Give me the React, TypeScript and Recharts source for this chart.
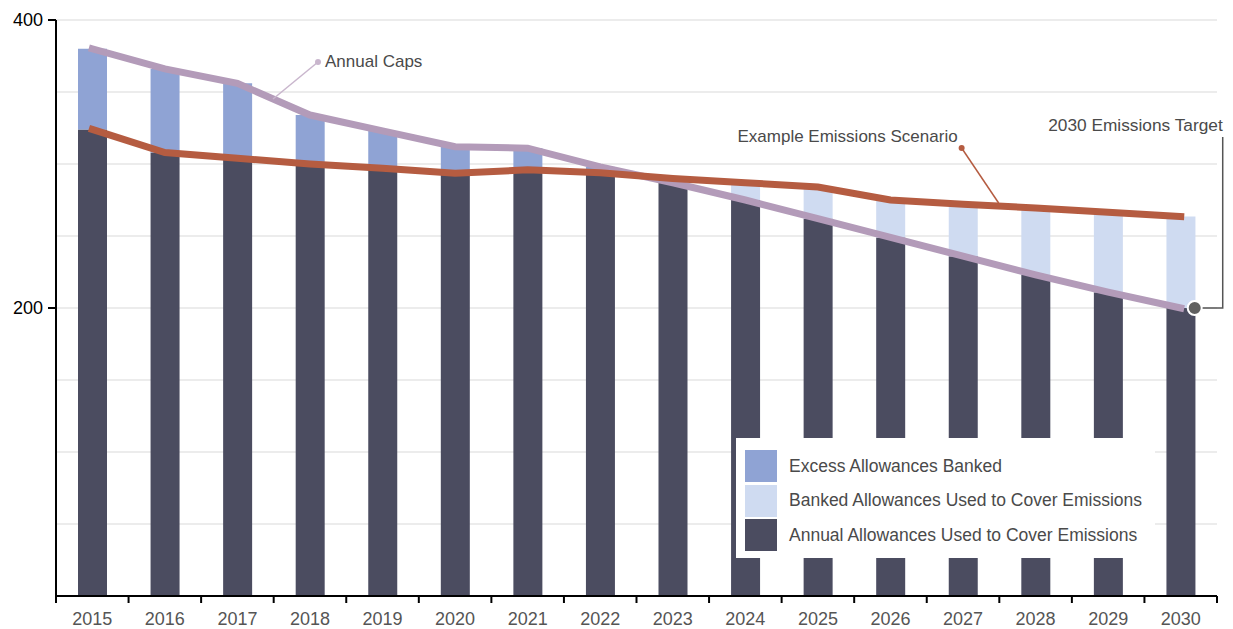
import React from 'react';
import {
  ComposedChart,
  Bar,
  Line,
  XAxis,
  YAxis,
  CartesianGrid,
  Legend,
  ReferenceDot,
} from 'recharts';

// ---- data ----
const years = ['2015', '2016', '2017', '2018', '2019', '2020', '2021', '2022', '2023', '2024', '2025', '2026', '2027', '2028', '2029', '2030'];
const annualCaps = [380, 366, 356, 334, 323, 312, 311, 298, 287, 275, 262, 249, 236, 223, 211, 200];
const emissions = [324, 308, 304, 300, 297, 293.5, 296, 294, 290, 287, 284, 275, 272, 269.5, 266.5, 263.5];
const yTicks = [200, 400];
const gridValues = [50, 100, 150, 200, 250, 300, 350, 400];

const seriesNames = {
  excess: 'Excess Allowances Banked',
  banked: 'Banked Allowances Used to Cover Emissions',
  annual: 'Annual Allowances Used to Cover Emissions',
  caps: 'Annual Caps',
  emissions: 'Example Emissions Scenario',
  target: '2030 Emissions Target',
};

const COLORS = {
  annual: '#4b4c60',
  excess: '#8fa3d4',
  banked: '#cfdbf1',
  caps: '#b39bb9',
  emissions: '#b55c41',
};

const data = years.map((year, i) => ({
  year,
  caps: annualCaps[i],
  emissions: emissions[i],
  annual: Math.min(annualCaps[i], emissions[i]),
  excess: Math.max(annualCaps[i] - emissions[i], 0),
  banked: Math.max(emissions[i] - annualCaps[i], 0),
}));

const legendItems = [
  { label: seriesNames.excess, color: COLORS.excess },
  { label: seriesNames.banked, color: COLORS.banked },
  { label: seriesNames.annual, color: COLORS.annual },
];

// ---- layout ----
const W = 1217;
const H = 621;
const MARGIN = { top: 12, right: 8, left: 0, bottom: 0 };
const Y_AXIS_W = 48;
const X_AXIS_H = 33;
const PLOT_BOTTOM = H - MARGIN.bottom - X_AXIS_H;
const PLOT_W = W - MARGIN.left - MARGIN.right - Y_AXIS_W;
const BAND = PLOT_W / years.length;
const FONT = '"Liberation Sans", Arial, Helvetica, sans-serif';
const TEXT = '#4a4a4a';

const XTick = (props: any) => {
  const { x, payload, index } = props;
  const half = BAND / 2;
  return (
    <g>
      <line x1={x - half} x2={x - half} y1={PLOT_BOTTOM} y2={PLOT_BOTTOM + 7} stroke="#000" strokeWidth={2} />
      {index === years.length - 1 && (
        <line x1={x + half} x2={x + half} y1={PLOT_BOTTOM} y2={PLOT_BOTTOM + 7} stroke="#000" strokeWidth={2} />
      )}
      <text x={x} y={PLOT_BOTTOM + 29} textAnchor="middle" fontSize={18} fill="#555" fontFamily={FONT}>
        {payload.value}
      </text>
    </g>
  );
};

const LegendBox = () => (
  <div
    style={{
      background: '#fff',
      width: 419,
      height: 120,
      boxSizing: 'border-box',
      padding: '11px 9px',
      fontFamily: FONT,
      fontSize: 17.5,
      color: TEXT,
    }}
  >
    {legendItems.map((it) => (
      <div key={it.label} style={{ display: 'flex', alignItems: 'center', height: 34.5 }}>
        <span style={{ display: 'inline-block', width: 32, height: 32, background: it.color, marginRight: 12 }} />
        <span>{it.label}</span>
      </div>
    ))}
  </div>
);

const CapsLabel = (props: any) => {
  const { cx, cy } = props;
  return (
    <g>
      <line x1={cx + 35.6} y1={cy + 15.6} x2={cx + 80.6} y2={cy - 21.4} stroke="#c9b6cd" strokeWidth={1.5} />
      <circle cx={cx + 80.6} cy={cy - 21.4} r={3} fill="#c9b6cd" />
      <text x={cx + 87.6} y={cy - 15.9} fontSize={17} fill={TEXT} fontFamily={FONT}>
        {seriesNames.caps}
      </text>
    </g>
  );
};

const EmissionsLabel = (props: any) => {
  const { cx, cy } = props;
  return (
    <g>
      <line x1={cx - 1.4} y1={cy - 56.3} x2={cx + 35.6} y2={cy - 1.3} stroke={COLORS.emissions} strokeWidth={1.5} />
      <circle cx={cx - 1.4} cy={cy - 56.3} r={3} fill={COLORS.emissions} />
      <text x={cx - 5.4} y={cy - 62.3} textAnchor="end" fontSize={17} fill={TEXT} fontFamily={FONT}>
        {seriesNames.emissions}
      </text>
    </g>
  );
};

const TargetLabel = (props: any) => {
  const { cx, cy } = props;
  return (
    <g>
      <polyline
        points={`${cx + 14},${cy} ${cx + 42},${cy} ${cx + 42},${cy - 171}`}
        fill="none"
        stroke="#555"
        strokeWidth={1.5}
      />
      <circle cx={cx + 14} cy={cy} r={7} fill="#606060" stroke="#fff" strokeWidth={2} />
      <text x={cx + 42} y={cy - 177} textAnchor="end" fontSize={17.3} fill={TEXT} fontFamily={FONT}>
        {seriesNames.target}
      </text>
    </g>
  );
};

export default function App() {
  return (
    <div style={{ position: 'absolute', left: 8, top: 8, width: W, height: H, fontFamily: FONT }}>
      <ComposedChart width={W} height={H} data={data} margin={MARGIN} barCategoryGap={0} style={{ fontFamily: FONT }}>
        <CartesianGrid vertical={false} horizontalValues={gridValues} stroke="#d9d9d9" strokeWidth={1} />
        <XAxis
          dataKey="year"
          height={X_AXIS_H}
          interval={0}
          tickLine={false}
          axisLine={{ stroke: '#000', strokeWidth: 2 }}
          tick={<XTick />}
        />
        <YAxis
          width={Y_AXIS_W}
          domain={[0, 400]}
          ticks={yTicks}
          tickSize={8}
          tickMargin={5}
          tickLine={{ stroke: '#000', strokeWidth: 2 }}
          axisLine={{ stroke: '#000', strokeWidth: 2 }}
          tick={{ fill: '#000', fontSize: 18, fontFamily: FONT }}
        />
        <Bar dataKey="annual" name={seriesNames.annual} stackId="a" fill={COLORS.annual} barSize={29} isAnimationActive={false} />
        <Bar dataKey="excess" name={seriesNames.excess} stackId="a" fill={COLORS.excess} barSize={29} isAnimationActive={false} />
        <Bar dataKey="banked" name={seriesNames.banked} stackId="a" fill={COLORS.banked} barSize={29} isAnimationActive={false} />
        <Line
          type="linear"
          dataKey="caps"
          name={seriesNames.caps}
          stroke={COLORS.caps}
          strokeWidth={7}
          strokeLinecap="square"
          dot={false}
          activeDot={false}
          legendType="none"
          isAnimationActive={false}
        />
        <Line
          type="linear"
          dataKey="emissions"
          name={seriesNames.emissions}
          stroke={COLORS.emissions}
          strokeWidth={7}
          strokeLinecap="square"
          dot={false}
          activeDot={false}
          legendType="none"
          isAnimationActive={false}
        />
        <ReferenceDot x={years[2]} y={annualCaps[2]} r={1} ifOverflow="visible" shape={<CapsLabel />} />
        <ReferenceDot x={years[12]} y={emissions[12]} r={1} ifOverflow="visible" shape={<EmissionsLabel />} />
        <ReferenceDot x={years[15]} y={annualCaps[15]} r={1} ifOverflow="visible" shape={<TargetLabel />} />
        <Legend
          layout="vertical"
          align="center"
          verticalAlign="middle"
          content={<LegendBox />}
          wrapperStyle={{ position: 'absolute', left: 728, top: 430, width: 419, height: 120 }}
        />
      </ComposedChart>
    </div>
  );
}
